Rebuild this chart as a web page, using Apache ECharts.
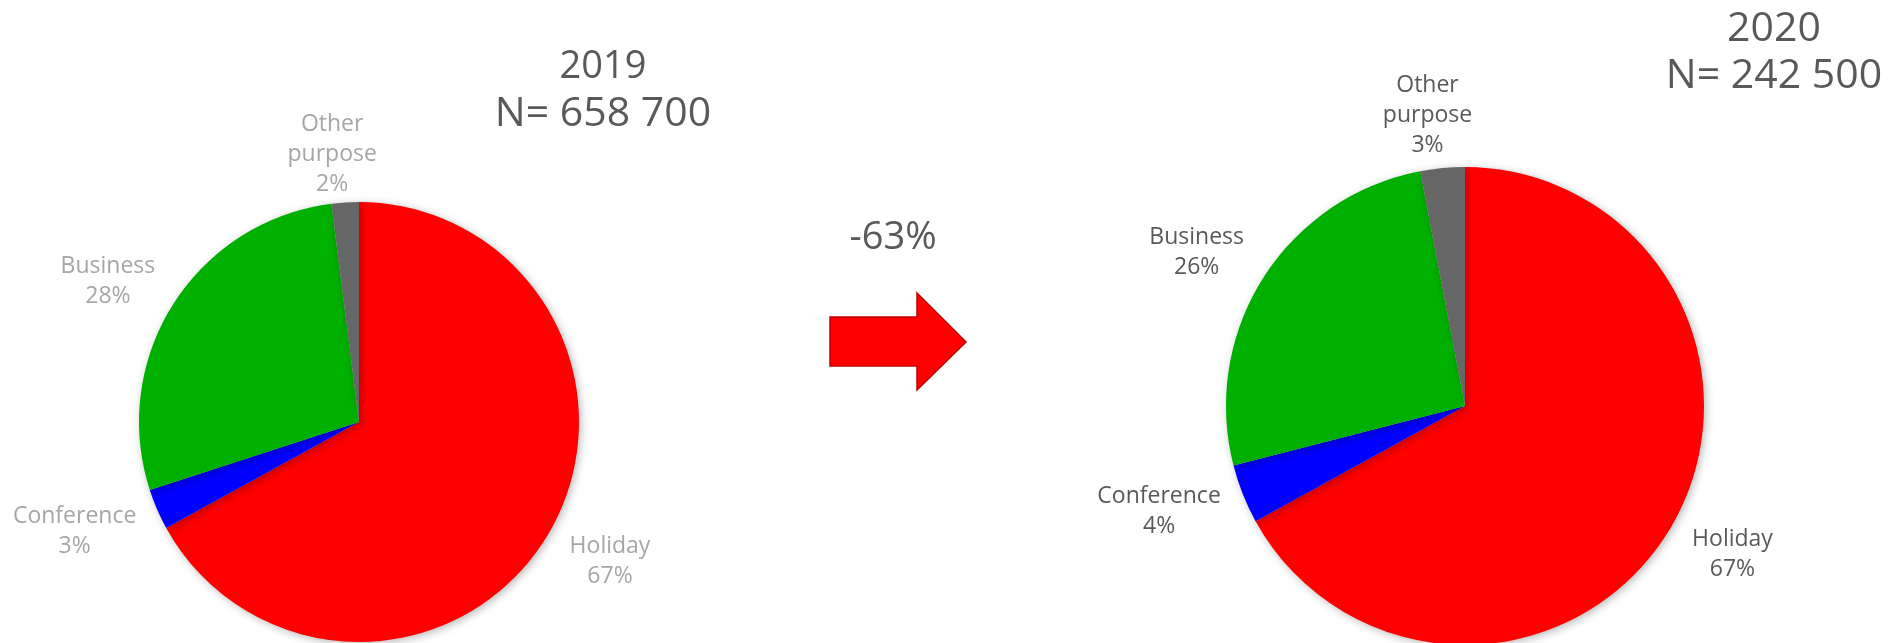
<!DOCTYPE html>
<html>
<head>
<meta charset="utf-8">
<script src="https://cdn.jsdelivr.net/npm/echarts@6/dist/echarts.min.js"></script>
<style>
html,body{margin:0;padding:0;background:#fff;}
#chart{width:1888px;height:643px;}
</style>
</head>
<body>
<div id="chart"></div>
<script>
// ---- data ----
var categories = ['Holiday', 'Conference', 'Business', 'Other purpose'];
var values2019 = [67, 3, 28, 2];
var values2020 = [67, 4, 26, 3];
var title2019 = ['2019', 'N= 658 700'];
var title2020 = ['2020', 'N= 242 500'];
var changeLabel = '-63%';
var sliceColors = ['#ff0000', '#0000ff', '#00b000', '#666666'];

// ---- layout (label offsets per slice: [length, length2]) ----
var labelLines2019 = [[53, 16], [55, 32], [43, 29], [48, 10]];
var labelLines2020 = [[52, 17], [47, 40], [48, 26], [53, 10]];

var FONT = '"Open Sans", "DejaVu Sans", sans-serif';

function buildData(values, lines) {
  return categories.map(function (name, i) {
    return {
      name: name,
      value: values[i],
      itemStyle: { color: sliceColors[i] },
      labelLine: { show: false, length: lines[i][0], length2: lines[i][1] }
    };
  });
}

function pieSeries(values, lines, center, radius, labelColor) {
  return {
    type: 'pie',
    center: center,
    radius: radius,
    startAngle: 90,
    clockwise: true,
    avoidLabelOverlap: false,
    animation: false,
    silent: true,
    itemStyle: {
      borderWidth: 0,
      shadowBlur: 8,
      shadowOffsetX: 2,
      shadowOffsetY: 2,
      shadowColor: 'rgba(0,0,0,0.28)'
    },
    label: {
      show: true,
      position: 'outside',
      distanceToLabelLine: 0,
      color: labelColor,
      fontFamily: FONT,
      fontSize: 23,
      lineHeight: 30,
      formatter: function (p) {
        return p.name.replace(' ', '\n') + '\n' + p.value + '%';
      }
    },
    labelLayout: function () {
      return { align: 'center', verticalAlign: 'middle' };
    },
    data: buildData(values, lines)
  };
}

var chart = echarts.init(document.getElementById('chart'), null, { renderer: 'canvas' });

function txt(x, y, text, size) {
  return { type: 'text', x: x, y: y, style: { text: text, font: size + 'px ' + FONT, fill: '#595959', textAlign: 'center', textVerticalAlign: 'middle' } };
}

chart.setOption({
  backgroundColor: '#ffffff',
  animation: false,
  series: [
    pieSeries(values2019, labelLines2019, [359, 422], 220, '#a6a6a6'),
    pieSeries(values2020, labelLines2020, [1465, 406], 239, '#595959')
  ],
  graphic: [
    txt(603, 67, title2019[0], 38),
    txt(603, 114, title2019[1], 41),
    txt(1774, 29, title2020[0], 41),
    txt(1774, 76, title2020[1], 41),
    txt(893, 238, changeLabel, 38),
    {
      type: 'polygon',
      shape: { points: [[830, 317], [917, 317], [917, 293], [966, 342], [917, 390], [917, 366], [830, 366]] },
      style: { fill: '#ff0000', stroke: '#c00000', lineWidth: 1.5 }
    }
  ]
});
</script>
</body>
</html>
